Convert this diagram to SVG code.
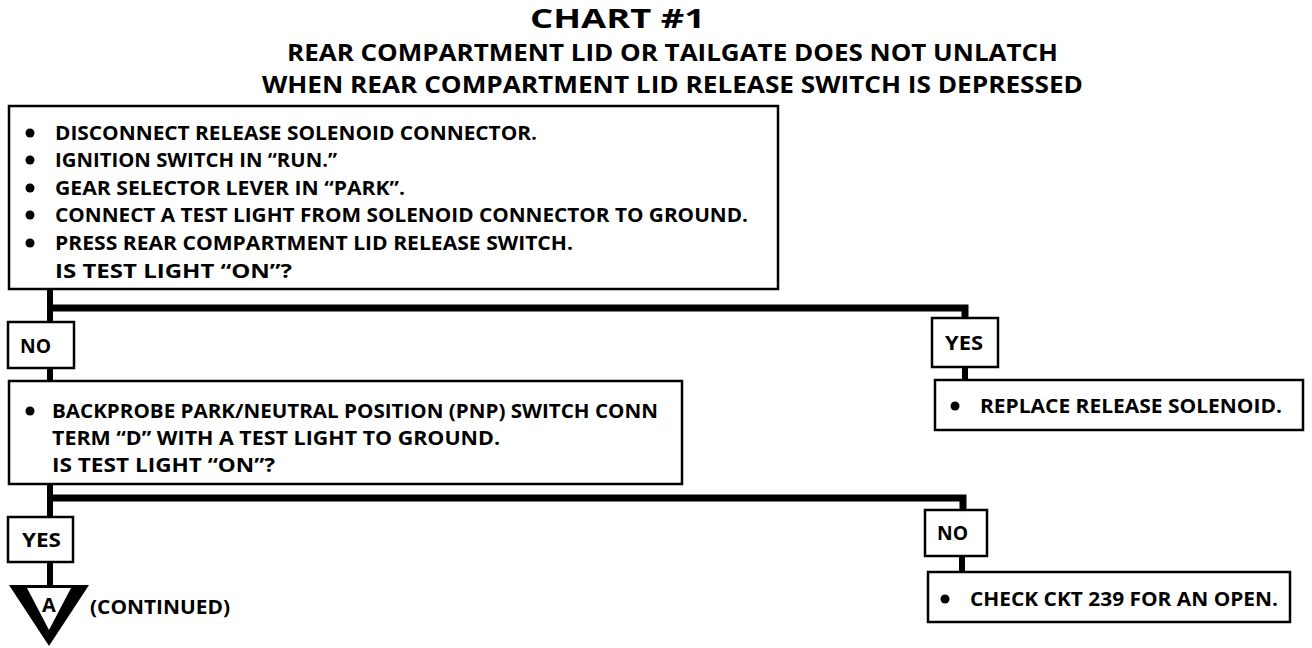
<svg xmlns="http://www.w3.org/2000/svg" width="1312" height="648" viewBox="0 0 1312 648">
<style>
text{font-family:"Open Sans","Liberation Sans",sans-serif;font-weight:700;fill:#000}
.t{font-size:19px}
.h1{font-size:26px}
.h2{font-size:24px}
.box{fill:#fff;stroke:#000;stroke-width:2.5}
.c{stroke:#000;stroke-width:6;fill:none}
.bar{stroke:#000;stroke-width:7;fill:none}
</style>
<rect width="1312" height="648" fill="#fff"/>
<g id="title">
<text class="h1" x="530" y="28" textLength="175" lengthAdjust="spacingAndGlyphs">CHART #1</text>
<text class="h2" x="287" y="61" textLength="771" lengthAdjust="spacingAndGlyphs">REAR COMPARTMENT LID OR TAILGATE DOES NOT UNLATCH</text>
<text class="h2" x="262" y="93" textLength="821" lengthAdjust="spacingAndGlyphs">WHEN REAR COMPARTMENT LID RELEASE SWITCH IS DEPRESSED</text>
</g>
<g id="connectors">
<line class="c" x1="50" y1="289" x2="50" y2="322"/>
<polyline class="bar" points="47,308 965,308 965,318"/>
<line class="c" x1="965" y1="367" x2="965" y2="380"/>
<line class="c" x1="50" y1="368" x2="50" y2="381"/>
<line class="c" x1="50" y1="484" x2="50" y2="517"/>
<polyline class="bar" points="47,498 963,498 963,510"/>
<line class="c" x1="962" y1="556" x2="962" y2="572"/>
<line class="c" x1="50" y1="562" x2="50" y2="586"/>
</g>
<g id="step1">
<rect class="box" x="9" y="106" width="769" height="183"/>
<circle cx="30" cy="133" r="4.5"/><circle cx="30" cy="160" r="4.5"/><circle cx="30" cy="188" r="4.5"/><circle cx="30" cy="215" r="4.5"/><circle cx="30" cy="243" r="4.5"/>
<text class="t" x="55" y="140" textLength="482" lengthAdjust="spacingAndGlyphs">DISCONNECT RELEASE SOLENOID CONNECTOR.</text>
<text class="t" x="55" y="167" textLength="282" lengthAdjust="spacingAndGlyphs">IGNITION SWITCH IN “RUN.”</text>
<text class="t" x="55" y="195" textLength="350" lengthAdjust="spacingAndGlyphs">GEAR SELECTOR LEVER IN “PARK”.</text>
<text class="t" x="55" y="222" textLength="693" lengthAdjust="spacingAndGlyphs">CONNECT A TEST LIGHT FROM SOLENOID CONNECTOR TO GROUND.</text>
<text class="t" x="55" y="250" textLength="518" lengthAdjust="spacingAndGlyphs">PRESS REAR COMPARTMENT LID RELEASE SWITCH.</text>
<text class="t" x="55" y="278" textLength="237" lengthAdjust="spacingAndGlyphs">IS TEST LIGHT “ON”?</text>
</g>
<g id="no1">
<rect class="box" x="8" y="322" width="66" height="46"/>
<text class="t" x="20" y="353" textLength="31" lengthAdjust="spacingAndGlyphs">NO</text>
</g>
<g id="yes1">
<rect class="box" x="932" y="318" width="66" height="49"/>
<text class="t" x="945" y="350" textLength="38" lengthAdjust="spacingAndGlyphs">YES</text>
</g>
<g id="replace">
<rect class="box" x="935" y="380" width="368" height="50"/>
<circle cx="955" cy="406" r="4.5"/>
<text class="t" x="980" y="413" textLength="302" lengthAdjust="spacingAndGlyphs">REPLACE RELEASE SOLENOID.</text>
</g>
<g id="step2">
<rect class="box" x="9" y="381" width="673" height="103"/>
<circle cx="30" cy="411" r="4.5"/>
<text class="t" x="52" y="418" textLength="606" lengthAdjust="spacingAndGlyphs">BACKPROBE PARK/NEUTRAL POSITION (PNP) SWITCH CONN</text>
<text class="t" x="52" y="445" textLength="448" lengthAdjust="spacingAndGlyphs">TERM “D” WITH A TEST LIGHT TO GROUND.</text>
<text class="t" x="52" y="472" textLength="223" lengthAdjust="spacingAndGlyphs">IS TEST LIGHT “ON”?</text>
</g>
<g id="yes2">
<rect class="box" x="8" y="517" width="65" height="45"/>
<text class="t" x="22" y="547" textLength="39" lengthAdjust="spacingAndGlyphs">YES</text>
</g>
<g id="no2">
<rect class="box" x="925" y="510" width="62" height="46"/>
<text class="t" x="937" y="540" textLength="31" lengthAdjust="spacingAndGlyphs">NO</text>
</g>
<g id="check">
<rect class="box" x="928" y="572" width="362" height="50"/>
<circle cx="945" cy="599" r="4.5"/>
<text class="t" x="970" y="606" textLength="308" lengthAdjust="spacingAndGlyphs">CHECK CKT 239 FOR AN OPEN.</text>
</g>
<g id="continued">
<polygon points="9,585 89,585 49,646" fill="#000"/>
<polygon points="27,588 71,588 49,630" fill="#fff"/>
<text x="49" y="612" font-size="20" text-anchor="middle">A</text>
<text class="t" x="90" y="614" textLength="140" lengthAdjust="spacingAndGlyphs">(CONTINUED)</text>
</g>
</svg>
